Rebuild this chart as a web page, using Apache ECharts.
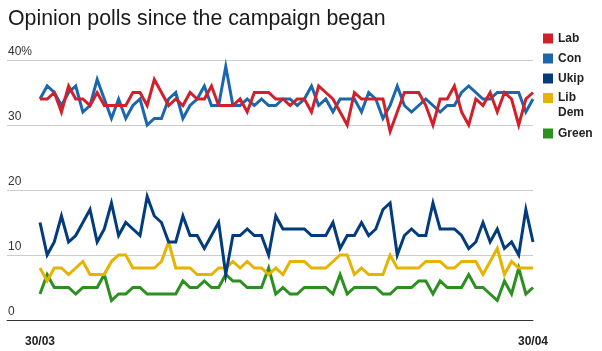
<!DOCTYPE html>
<html>
<head>
<meta charset="utf-8">
<script src="https://cdn.jsdelivr.net/npm/echarts@6/dist/echarts.min.js"></script>
<style>
  html, body { margin: 0; padding: 0; background: #fff; }
  #chart { width: 602px; height: 351px; }
</style>
</head>
<body>
<div id="chart"></div>
<script>
  // poll values, one per poll, in order
  let lab = [34, 34, 35, 32, 36, 34, 34, 33, 35, 33, 33, 33, 33, 35, 35, 33, 37, 35, 33, 34, 33, 35, 34,
    34, 36, 33, 33, 33, 34, 32, 35, 35, 35, 34, 34, 33, 34, 34, 32, 36, 35, 34, 32, 30,
    35, 34, 34, 34, 34, 29, 32, 35, 35, 35, 33, 30, 34, 34, 36, 32, 30, 34, 33, 35, 32, 35, 34, 30, 34, 35]
  let con = [34, 36, 35, 33, 35, 36, 32, 33, 37, 34, 31, 34, 31, 33, 34, 30, 31, 31, 34, 35, 31, 33, 34,
    36, 33, 33, 39, 33, 33, 34, 33, 34, 33, 33, 34, 34, 33, 34, 36, 33, 34, 32, 34, 34,
    34, 32, 35, 34, 31, 33, 36, 33, 32, 33, 34, 33, 32, 33, 33, 35, 36, 35, 34, 34, 35, 35, 35, 35, 32, 34]
  let ukip = [15, 10, 12, 16, 12, 13, 15, 17, 12, 14, 18, 13, 15, 14, 13, 19, 16, 15, 12, 12, 16, 13, 13, 11,
    13, 15, 7, 13, 13, 14, 13, 13, 10, 16, 14, 14, 14, 14, 13, 13, 13, 15, 11, 13, 13, 15,
    13, 14, 17, 18, 10, 13, 14, 13, 13, 18, 14, 14, 14, 13, 11, 12, 15, 12, 14, 11, 12, 10, 17, 12]
  let libDem = [8, 6, 8, 8, 7, 8, 9, 7, 7, 7, 9, 10, 10, 8, 8, 8, 8, 9, 12, 8, 8, 8, 7, 7,
    7, 8, 8, 9, 8, 9, 8, 8, 7, 8, 7, 9, 9, 9, 8, 8, 8, 9, 10, 10, 7, 8, 7,
    7, 7, 10, 8, 8, 8, 8, 9, 9, 9, 8, 8, 9, 9, 9, 7, 9, 11, 7, 9, 8, 8, 8]
  let green = [4, 7, 5, 5, 5, 4, 5, 5, 5, 7, 3, 4, 4, 5, 5, 4, 4, 4, 4, 4, 6, 5, 5, 6,
    5, 5, 7, 6, 6, 5, 5, 5, 8, 4, 5, 4, 4, 5, 5, 5, 5, 4, 7, 4, 5, 5, 5,
    5, 4, 4, 5, 5, 5, 6, 6, 4, 6, 5, 5, 5, 7, 5, 5, 4, 3, 6, 4, 8, 4, 5]

  let dates = ['30/03', '30/04']
  let yTicks = [0, 10, 20, 30, 40]
  let parties = ['Lab', 'Con', 'Ukip', 'Lib Dem', 'Green']

  let colors = ['#d1202a', '#1b67ae', '#033c7c', '#e6b400', '#2b901f']
  let values = [lab, con, ukip, libDem, green]
  let zs = [6, 5, 4, 3, 2]

  // first and last poll get the date, the rest stay blank
  let categories = lab.map((v, i) => i === 0 ? dates[0] : (i === lab.length - 1 ? dates[1] : ''))

  let font = '"Liberation Sans", Arial, Helvetica, sans-serif'
  let myChart = echarts.init(document.getElementById('chart'))

  let series = []
  parties.forEach((name, index) => {
    series.push({
      name: name,
      type: 'line',
      xAxisIndex: 1,
      yAxisIndex: 1,
      data: values[index],
      symbol: 'none',
      z: zs[index],
      lineStyle: { width: 3, color: colors[index], join: 'miter' },
      itemStyle: { color: colors[index] }
    })
  })

  // three legend blocks so "Lib Dem" can wrap with its square next to "Lib"
  let legendBase = {
    orient: 'vertical',
    left: 543,
    padding: 0,
    itemWidth: 10,
    itemHeight: 10,
    itemGap: 5,
    icon: 'rect',
    textStyle: { fontFamily: font, fontSize: 12, fontWeight: 'bold', color: '#222', lineHeight: 15 }
  }

  let yAxisBase = {
    type: 'value',
    min: yTicks[0],
    max: yTicks[yTicks.length - 1],
    interval: 10
  }

  let option = {
    animation: false,
    title: {
      text: 'Opinion polls since the campaign began',
      left: 3,
      top: 4,
      textStyle: { fontFamily: font, fontSize: 21.3, fontWeight: 'normal', color: '#1a1a1a' }
    },
    legend: [
      Object.assign({}, legendBase, { top: 31, data: parties.slice(0, 3) }),
      Object.assign({}, legendBase, {
        top: 75.5,
        data: ['Lib Dem'],
        formatter: () => '\nLib\nDem'
      }),
      Object.assign({}, legendBase, { top: 126, data: ['Green'] })
    ],
    grid: [
      { left: 7, right: 69, top: 60, bottom: 31 },
      { left: 40, right: 69, top: 60, bottom: 31 }
    ],
    xAxis: [
      {
        type: 'category',
        gridIndex: 0,
        data: categories,
        axisLine: { lineStyle: { color: '#333', width: 1 } },
        axisTick: { show: false },
        axisLabel: { show: false }
      },
      {
        type: 'category',
        gridIndex: 1,
        data: categories,
        boundaryGap: false,
        axisLine: { show: false },
        axisTick: { show: false },
        axisLabel: {
          interval: 0,
          margin: 16,
          fontFamily: font,
          fontSize: 12,
          fontWeight: 'bold',
          color: '#222'
        }
      }
    ],
    yAxis: [
      Object.assign({}, yAxisBase, {
        gridIndex: 0,
        axisLine: { show: false },
        axisTick: { show: false },
        splitLine: { lineStyle: { color: '#cccccc', width: 1 } },
        axisLabel: {
          inside: true,
          margin: 1,
          align: 'left',
          verticalAlign: 'bottom',
          padding: [0, 0, 2, 0],
          fontFamily: font,
          fontSize: 12,
          color: '#333',
          formatter: v => v === 40 ? '40%' : String(v)
        }
      }),
      Object.assign({}, yAxisBase, {
        gridIndex: 1,
        show: false
      })
    ],
    series: series
  }
  myChart.setOption(option)
</script>
</body>
</html>
